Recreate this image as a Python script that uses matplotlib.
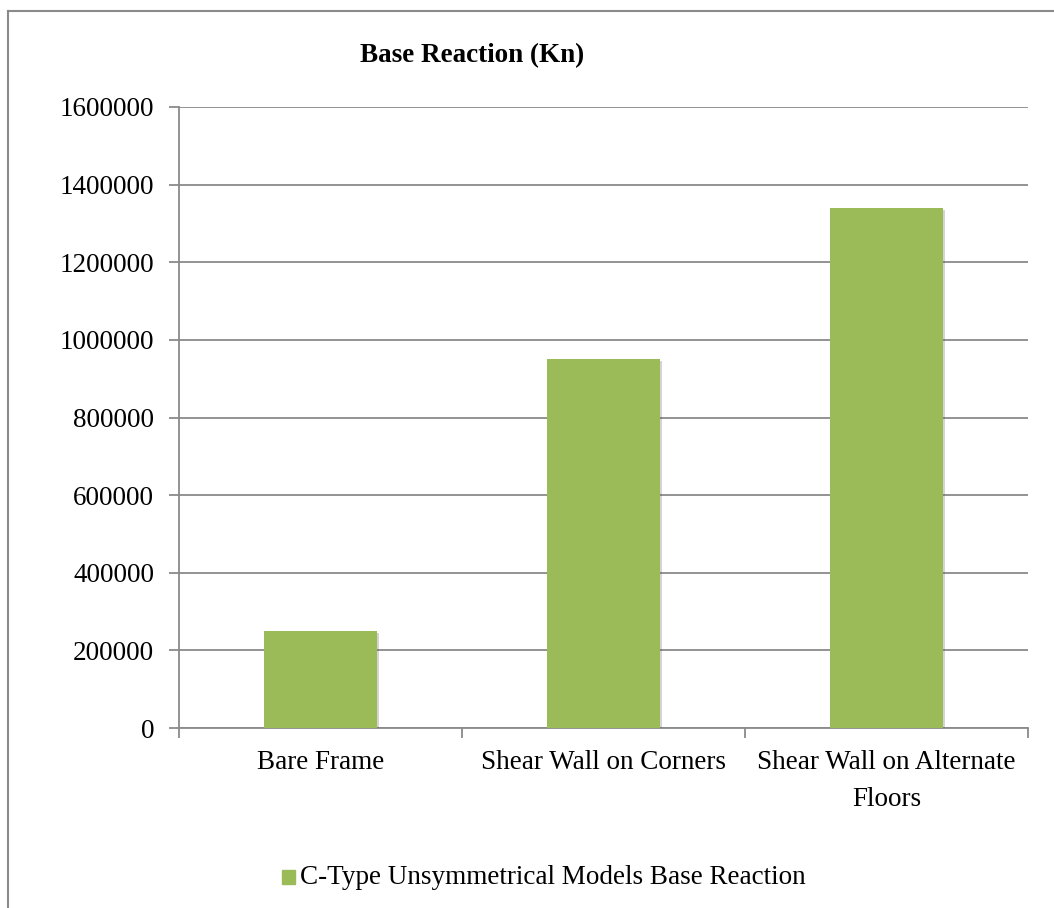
import matplotlib.pyplot as plt
import matplotlib.patheffects as pe
from matplotlib.lines import Line2D
import numpy as np

categories = ['Bare Frame', 'Shear Wall on Corners', 'Shear Wall on Alternate\nFloors']
base_reaction = [250000, 950000, 1340000]
series_name = 'C-Type Unsymmetrical Models Base Reaction'
yticks = [0, 200000, 400000, 600000, 800000, 1000000, 1200000, 1400000, 1600000]

plt.rcParams['font.family'] = ['Liberation Serif', 'DejaVu Serif']
grey = '#8a8a8a'
green = '#9bbb59'

fig = plt.figure(figsize=(10.54, 9.08), dpi=100)
W, H = 1054, 908

# outer chart frame (cropped at right and bottom)
top_y = 1 - 11 / H
fig.add_artist(Line2D([8 / W, 8 / W], [top_y, -0.01], color=grey, lw=1.5, transform=fig.transFigure))
fig.add_artist(Line2D([8 / W, 1.01], [top_y, top_y], color=grey, lw=1.5, transform=fig.transFigure))

ax = fig.add_axes([179 / W, 1 - 728 / H, (1028 - 179) / W, (728 - 107) / H])
x = np.arange(len(categories))
ax.bar(x, base_reaction, width=0.4, color=green, zorder=3,
       path_effects=[pe.SimplePatchShadow(offset=(1.5, -1.5), alpha=0.25, shadow_rgbFace='#555555'), pe.Normal()])

ax.set_xlim(-0.5, 2.5)
ax.set_ylim(0, 1600000)
ax.set_yticks(yticks)
ax.set_yticklabels([str(v) for v in yticks])
ax.yaxis.grid(True, color=grey, lw=1.3, zorder=0)
ax.set_axisbelow(True)

ax.set_xticks([-0.5, 0.5, 1.5, 2.5])
ax.set_xticklabels([])
ax.set_xticks(x, minor=True)
ax.set_xticklabels(categories, minor=True, fontsize=19.5, linespacing=1.6, va='top')
ax.tick_params(axis='x', which='minor', length=0, pad=16)
ax.tick_params(axis='x', which='major', length=7, color=grey, width=1.3)
ax.tick_params(axis='y', length=7, color=grey, width=1.3, labelsize=19.5, pad=11)

for s in ['top', 'right']:
    ax.spines[s].set_visible(False)
for s in ['left', 'bottom']:
    ax.spines[s].set_color(grey)
    ax.spines[s].set_linewidth(1.3)

fig.text(472 / W, 1 - 56 / H, 'Base Reaction (Kn)', fontsize=19.5, fontweight='bold',
         ha='center', va='center')

# legend
fig.patches.append(plt.Rectangle((282 / W, 1 - 884 / H), 13 / W, 14 / H, color=green,
                                 transform=fig.transFigure, figure=fig))
fig.text(300 / W, 1 - 878 / H, series_name, fontsize=19.5, ha='left', va='center')

fig.savefig('out.png', dpi=100)
